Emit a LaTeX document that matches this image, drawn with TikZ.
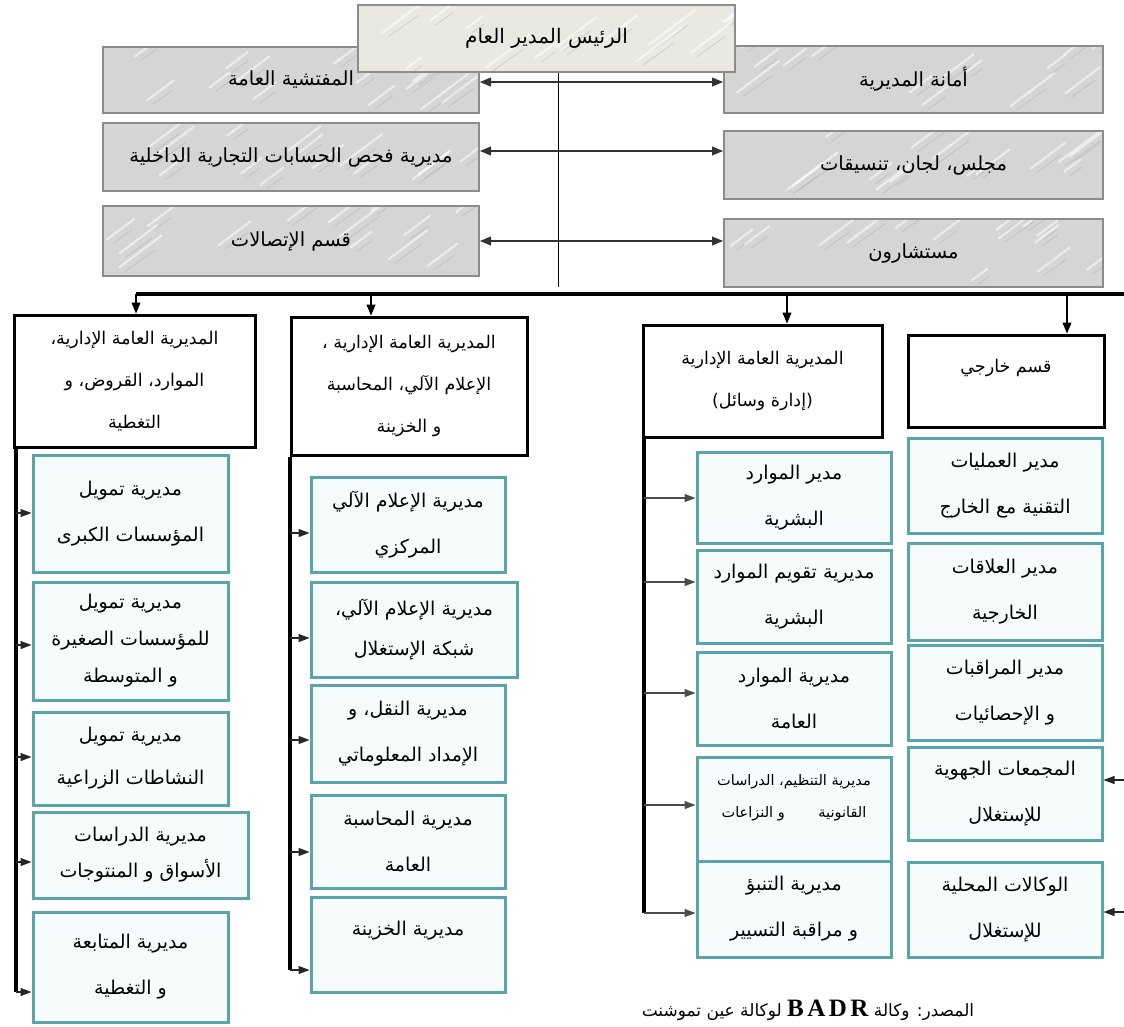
\documentclass[tikz,border=0pt]{standalone}
\usepackage{fontspec}
\newfontfamily\arabicfont[Script=Arabic]{DejaVu Sans}
\newfontfamily\badrfont{Liberation Serif}
\TeXXeTstate=1
\usetikzlibrary{arrows.meta}
\newcommand{\artxt}[1]{\beginR #1\endR}
\definecolor{tealb}{HTML}{5AA5AB}
\definecolor{tealf}{HTML}{F6FCFC}
\definecolor{marble}{HTML}{D5D5D5}
\definecolor{marbleedge}{HTML}{8C8C8C}
\definecolor{topfill}{HTML}{E9E9E2}
\begin{document}
\begin{tikzpicture}[x=1pt,y=-1pt,
  artext/.style={font={\arabicfont\fontsize{19}{46}\selectfont}, align=center, inner sep=0pt},
  marbletex/.style={path picture={
    \foreach \k in {1,...,14}{
      \pgfmathsetmacro{\ax}{rand*185}\pgfmathsetmacro{\ay}{rand*32}\pgfmathsetmacro{\ln}{15+rnd*35}
      \draw[white, line width=2.2pt, opacity=0.55, line cap=round] ([shift={(\ax,\ay)}]path picture bounding box.center) -- ++(\ln,-0.75*\ln);
      \draw[gray!75, line width=0.6pt, opacity=0.45, line cap=round] ([shift={(\ax+6,\ay+4)}]path picture bounding box.center) -- ++(0.7*\ln,-0.5*\ln);
    }}},
  graybox/.style={artext, draw=marbleedge, line width=2pt, fill=marble, marbletex, font={\arabicfont\fontsize{19.5}{46}\selectfont}},
  headbox/.style={artext, draw=black, line width=3pt, fill=white, font={\arabicfont\fontsize{17.5}{42}\selectfont}},
  tealbox/.style={artext, draw=tealb, line width=3pt, fill=tealf},
  dbl/.style={{Triangle[length=11pt,width=9pt]}-{Triangle[length=11pt,width=9pt]}, line width=1.1pt, draw=black!80},
  downarr/.style={-{Triangle[length=11pt,width=9pt]}, line width=1.1pt},
  branch/.style={-{Triangle[length=11pt,width=8pt]}, line width=1.1pt, draw=black!85},
  trunk/.style={line width=4pt},
  bus/.style={line width=3.5pt}]
\pgfmathsetseed{11}
\fill[white] (0,0) rectangle (1124,1026);
\useasboundingbox (0,0) rectangle (1124,1026);

% top level
\node[graybox, minimum width=376, minimum height=66] (insp) at (291,80) {\artxt{المفتشية العامة}};
\node[graybox, minimum width=376, minimum height=68] (audit) at (291,157) {\artxt{مديرية فحص الحسابات التجارية الداخلية}};
\node[graybox, minimum width=376, minimum height=70] (comm) at (291,241) {\artxt{قسم الإتصالات}};
\node[graybox, minimum width=379, minimum height=67] (amana) at (913.5,79.5) {\artxt{أمانة المديرية}};
\node[graybox, minimum width=379, minimum height=68] (council) at (913.5,165) {\artxt{مجلس، لجان، تنسيقات}};
\node[graybox, minimum width=379, minimum height=68] (advis) at (913.5,253) {\artxt{مستشارون}};
\node[graybox, fill=topfill, minimum width=377, minimum height=67, font={\arabicfont\fontsize{20}{46}\selectfont}] (top) at (546.5,38.5) {\artxt{الرئيس المدير العام}};

\coordinate (vb) at (558,287);
\draw[line width=1pt] (top.south -| vb) -- (vb);
\coordinate (r1) at (558,82);
\coordinate (r2) at (558,151);
\coordinate (r3) at (558,241);
\draw[dbl] (insp.east |- r1) -- (amana.west |- r1);
\draw[dbl] (audit.east |- r2) -- (council.west |- r2);
\draw[dbl] (comm.east |- r3) -- (advis.west |- r3);

% level 2
\node[headbox, minimum width=241, minimum height=132] (A) at (134.5,381) {\artxt{المديرية العامة الإدارية،}\\\artxt{الموارد، القروض، و}\\\artxt{التغطية}};
\node[headbox, minimum width=236, minimum height=138] (B) at (409,386) {\artxt{المديرية العامة الإدارية ،}\\\artxt{الإعلام الآلي، المحاسبة}\\\artxt{و الخزينة}};
\node[headbox, minimum width=239, minimum height=112] (C) at (762.5,381) {\artxt{المديرية العامة الإدارية}\\\artxt{(إدارة وسائل)}};
\node[headbox, minimum width=196, minimum height=92] (D) at (1006,381) {\artxt{قسم خارجي}\\[-12pt]\mbox{}};

\coordinate (busL) at (136,294);
\coordinate (busR) at (1124,294);
\coordinate (busB) at (371,294);
\coordinate (busC) at (787,294);
\coordinate (busD) at (1067,294);
\draw[bus] (busL) -- (busR);
\draw[downarr] (busL) -- (A.north -| busL);
\draw[downarr] (busB) -- (B.north -| busB);
\draw[downarr] (busC) -- (C.north -| busC);
\draw[downarr] (busD) -- (D.north -| busD);

% column A
\node[tealbox, minimum width=195, minimum height=117] (a1) at (130.5,513.5) {\artxt{مديرية تمويل}\\\artxt{المؤسسات الكبرى}};
\node[tealbox, minimum width=195, minimum height=118, font={\arabicfont\fontsize{19}{37}\selectfont}] (a2) at (130.5,641) {\artxt{مديرية تمويل}\\\artxt{للمؤسسات الصغيرة}\\\artxt{و المتوسطة}};
\node[tealbox, minimum width=195, minimum height=93, font={\arabicfont\fontsize{19}{43}\selectfont}] (a3) at (130.5,758.5) {\artxt{مديرية تمويل}\\\artxt{النشاطات الزراعية}};
\node[tealbox, minimum width=215, minimum height=86, font={\arabicfont\fontsize{19}{36}\selectfont}] (a4) at (140.5,855) {\artxt{مديرية الدراسات}\\\artxt{الأسواق و المنتوجات}};
\node[tealbox, minimum width=195, minimum height=110] (a5) at (130.5,967) {\artxt{مديرية المتابعة}\\\artxt{و التغطية}};

\coordinate (aT) at (16,992);
\draw[trunk] (A.south -| aT) -- (aT);
\draw[branch] (16,513) -- (a1.west |- 16,513);
\draw[branch] (16,645) -- (a2.west |- 16,645);
\draw[branch] (16,757) -- (a3.west |- 16,757);
\draw[branch] (16,862) -- (a4.west |- 16,862);
\draw[branch] (aT) -- (a5.west |- aT);

% column B
\node[tealbox, minimum width=194, minimum height=95] (b1) at (408,524.5) {\artxt{مديرية الإعلام الآلي}\\\artxt{المركزي}};
\node[tealbox, minimum width=206, minimum height=95, font={\arabicfont\fontsize{19}{40}\selectfont}] (b2) at (414,629.5) {\artxt{مديرية الإعلام الآلي،}\\\artxt{شبكة الإستغلال}};
\node[tealbox, minimum width=194, minimum height=97] (b3) at (408,733.5) {\artxt{مديرية النقل، و}\\\artxt{الإمداد المعلوماتي}};
\node[tealbox, minimum width=194, minimum height=93] (b4) at (408,841.5) {\artxt{مديرية المحاسبة}\\\artxt{العامة}};
\node[tealbox, minimum width=194, minimum height=95] (b5) at (408,944.5) {\artxt{مديرية الخزينة}\\[-14pt]\mbox{}};

\coordinate (bT) at (290,970);
\draw[trunk] (B.south -| bT) -- (bT);
\draw[branch] (290,533) -- (b1.west |- 290,533);
\draw[branch] (290,638) -- (b2.west |- 290,638);
\draw[branch] (290,740) -- (b3.west |- 290,740);
\draw[branch] (290,852) -- (b4.west |- 290,852);
\draw[branch] (bT) -- (b5.west |- bT);

% column C
\node[tealbox, minimum width=194, minimum height=91] (c1) at (794,497.5) {\artxt{مدير الموارد}\\\artxt{البشرية}};
\node[tealbox, minimum width=194, minimum height=93] (c2) at (794,596.5) {\artxt{مديرية تقويم الموارد}\\\artxt{البشرية}};
\node[tealbox, minimum width=194, minimum height=93] (c3) at (794,698.5) {\artxt{مديرية الموارد}\\\artxt{العامة}};
\node[tealbox, minimum width=194, minimum height=104, font={\arabicfont\fontsize{14.5}{32}\selectfont}] (c4) at (794,809) {\artxt{مديرية التنظيم، الدراسات}\\\artxt{القانونية \quad\quad و النزاعات}\\[-6pt]\mbox{}};
\node[tealbox, minimum width=194, minimum height=96] (c5) at (794,909) {\artxt{مديرية التنبؤ}\\\artxt{و مراقبة التسيير}};

\coordinate (cT) at (644,913);
\draw[trunk] (C.south -| cT) -- (cT);
\draw[branch, draw=black!70] (644,498) -- (c1.west |- 644,498);
\draw[branch, draw=black!70] (644,582) -- (c2.west |- 644,582);
\draw[branch, draw=black!70] (644,693) -- (c3.west |- 644,693);
\draw[branch, draw=black!70] (644,805) -- (c4.west |- 644,805);
\draw[branch, draw=black!70] (cT) -- (c5.west |- cT);

% column D
\node[tealbox, minimum width=194, minimum height=95] (d1) at (1005,485.5) {\artxt{مدير العمليات}\\\artxt{التقنية مع الخارج}};
\node[tealbox, minimum width=194, minimum height=97] (d2) at (1005,591.5) {\artxt{مدير العلاقات}\\\artxt{الخارجية}};
\node[tealbox, minimum width=194, minimum height=95] (d3) at (1005,692.5) {\artxt{مدير المراقبات}\\\artxt{و الإحصائيات}};
\node[tealbox, minimum width=194, minimum height=93] (d4) at (1005,793.5) {\artxt{المجمعات الجهوية}\\\artxt{للإستغلال}};
\node[tealbox, minimum width=194, minimum height=95] (d5) at (1005,909.5) {\artxt{الوكالات المحلية}\\\artxt{للإستغلال}};

\coordinate (d4in) at (1124,780);
\coordinate (d5in) at (1124,912);
\draw[branch] (d4in) -- (d4.east |- d4in);
\draw[branch] (d5in) -- (d5.east |- d5in);

% source
\node[font={\arabicfont\fontsize{17}{20}\selectfont}, inner sep=0pt] (src) at (808,1010) {\beginR المصدر: وكالة \beginL{\badrfont\bfseries\fontsize{25}{26}\selectfont\addfontfeature{LetterSpace=14} BADR}\endL{} لوكالة عين تموشنت\endR};
\end{tikzpicture}
\end{document}
